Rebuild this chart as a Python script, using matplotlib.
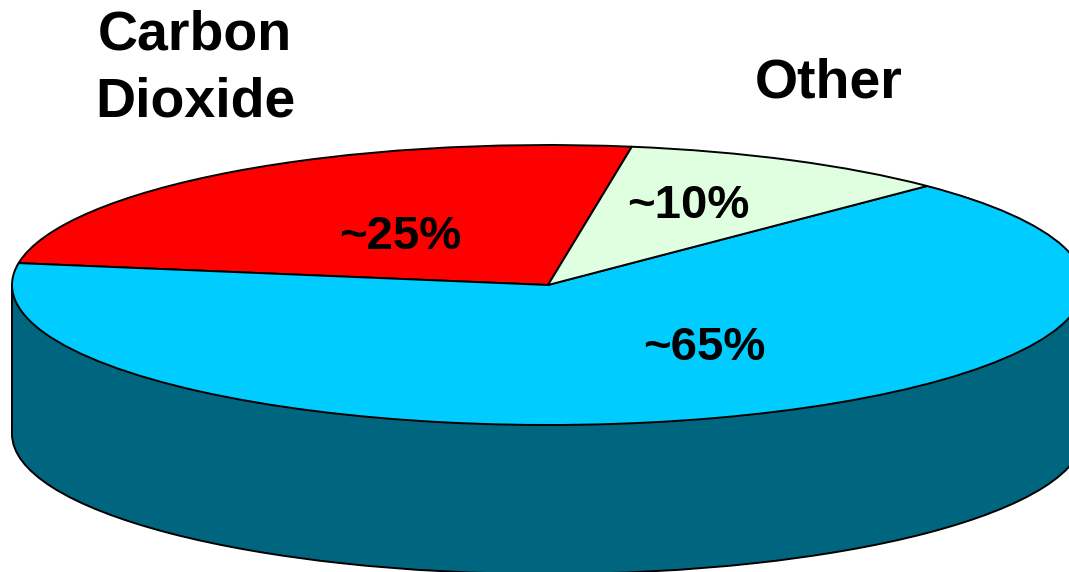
import matplotlib
matplotlib.use("Agg")
import matplotlib.pyplot as plt
from matplotlib.patches import Rectangle

# =========================
# Data
# =========================
names = ["Carbon\nDioxide", "", "Other"]
shares = [25, 65, 10]
slice_colors = ["#FF0000", "#00CCFF", "#E0FFE0"]
side_color = "#006680"

# =========================
# Figure setup
# =========================
W, H = 1069, 572
CX, CY = 548, 285      # centre of the disc top, px
RX, RY = 536, 140      # disc radii, px
DEPTH = 149            # disc thickness, px

plt.rcParams["font.family"] = ["Liberation Sans", "DejaVu Sans"]

fig = plt.figure(figsize=(W / 100, H / 100), dpi=100, facecolor="white")
ax = fig.add_axes([0, 0, 1, 1])

edge = {"edgecolor": "black", "linewidth": 1.4}
depth = DEPTH / RY

# side of the cylinder: lower disc plus a filled band
ax.pie([1], colors=[side_color], radius=1, center=(0, -depth),
       startangle=90, wedgeprops=edge)
ax.add_patch(Rectangle((-1, -depth), 2, depth, facecolor=side_color, edgecolor="none"))
ax.plot([-1, -1], [-depth, 0], color="black", lw=1.4)
ax.plot([1, 1], [-depth, 0], color="black", lw=1.4)

# top of the disc
ax.pie(shares, colors=slice_colors, radius=1, center=(0, 0),
       startangle=81, wedgeprops=edge)

# squash the circle into an ellipse
ax.set_aspect("auto")
ax.set_xlim(-CX / RX, (W - CX) / RX)
ax.set_ylim((CY - H) / RY, CY / RY)
ax.axis("off")

# =========================
# Labels
# =========================
def label(x, y, text, size, spacing=1.2):
    fig.text(x / W, 1 - y / H, text, fontsize=size, fontweight="bold",
             ha="center", va="center", linespacing=spacing)

label(195, 69, names[0], 40, spacing=1.36)
label(829, 83, names[2], 40)
label(400, 237, f"~{shares[0]}%", 34)
label(704, 348, f"~{shares[1]}%", 34)
label(688, 206, f"~{shares[2]}%", 34)

fig.savefig("out.png", dpi=100)
